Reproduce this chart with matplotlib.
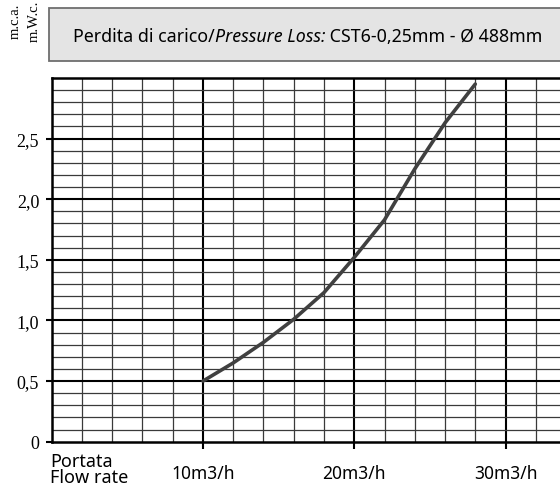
import numpy as np
import matplotlib
matplotlib.use("Agg")
import matplotlib.pyplot as plt
from matplotlib.patches import Rectangle

# Pressure loss curve, flow in m3/h vs loss in m w.c.
flow = [10, 12, 14, 16, 18, 20, 22, 24, 26, 28]
loss = [0.50, 0.65, 0.82, 1.01, 1.23, 1.52, 1.83, 2.25, 2.63, 2.95]

y_ticks = [0, 0.5, 1.0, 1.5, 2.0, 2.5]
y_labels = ["0", "0,5", "1,0", "1,5", "2,0", "2,5"]
x_ticks = [10, 20, 30]
x_labels = ["10m3/h", "20m3/h", "30m3/h"]

title_parts = [("Perdita di carico/", "normal"),
               ("Pressure Loss:", "italic"),
               (" CST6-0,25mm - Ø 488mm", "normal")]

sans = "Noto Sans"
serif = "Liberation Serif"

W, H = 560, 489
fig = plt.figure(figsize=(W / 100, H / 100), dpi=100)
ax = fig.add_axes([51.7 / W, 1 - 442.7 / H, 1 - 51.7 / W, (442.7 - 79) / H])
ax.set_xlim(0, 33.6)
ax.set_ylim(0, 3.0)

# grid paper: thin lines every 2 m3/h and 0.1 m, heavy every 10 and 0.5
for x in np.arange(2, 34, 2):
    heavy = x % 10 == 0
    ax.axvline(x, color="black" if heavy else "#3a3a3a",
               lw=1.5 if heavy else 0.9, zorder=1)
for i in range(1, 30):
    y = i / 10
    heavy = i % 5 == 0
    ax.axhline(y, color="black" if heavy else "#3a3a3a",
               lw=1.5 if heavy else 0.9, zorder=1)

ax.plot(flow, loss, color="#404040", lw=2.6, solid_capstyle="round", zorder=3)

for side in ["left", "bottom", "top"]:
    ax.spines[side].set_linewidth(1.8)
ax.spines["right"].set_visible(False)

ax.set_yticks(y_ticks)
ax.set_yticklabels(y_labels, family=serif, fontsize=13)
ax.set_xticks(x_ticks)
ax.set_xticklabels([])
ax.tick_params(axis="y", length=4, width=1.5, pad=5)
ax.tick_params(axis="x", length=5, width=1.5)

for x, lab in zip(x_ticks, x_labels):
    ax.text(x, -0.255, lab, transform=ax.transData, ha="center", va="center",
            family=sans, fontsize=12.5)
fig.text(50 / W, 1 - 462 / H, "Portata", ha="left", va="center",
         family=sans, fontsize=13)
fig.text(50 / W, 1 - 478.5 / H, "Flow rate", ha="left", va="center",
         family=sans, fontsize=13)

# unit labels, rotated
fig.text(15 / W, 1 - 21 / H, "m.c.a.", rotation=90, ha="center", va="center",
         family=serif, fontsize=10.5)
fig.text(34 / W, 1 - 21 / H, "m.W.c.", rotation=90, ha="center", va="center",
         family=serif, fontsize=10.5)

# title box
fig.patches.append(Rectangle((48.5 / W, 1 - 61.5 / H), 1, (61.5 - 8.5) / H,
                             transform=fig.transFigure, facecolor="#e4e4e4",
                             edgecolor="#6e6e6e", lw=1.3, zorder=0))
fig.canvas.draw()
renderer = fig.canvas.get_renderer()
x0 = 73
for txt, style in title_parts:
    t = fig.text(x0 / W, 1 - 42 / H, txt, ha="left", va="baseline",
                 family=sans, style=style, fontsize=12.8)
    x0 += t.get_window_extent(renderer).width

fig.savefig("out.png", dpi=100)
